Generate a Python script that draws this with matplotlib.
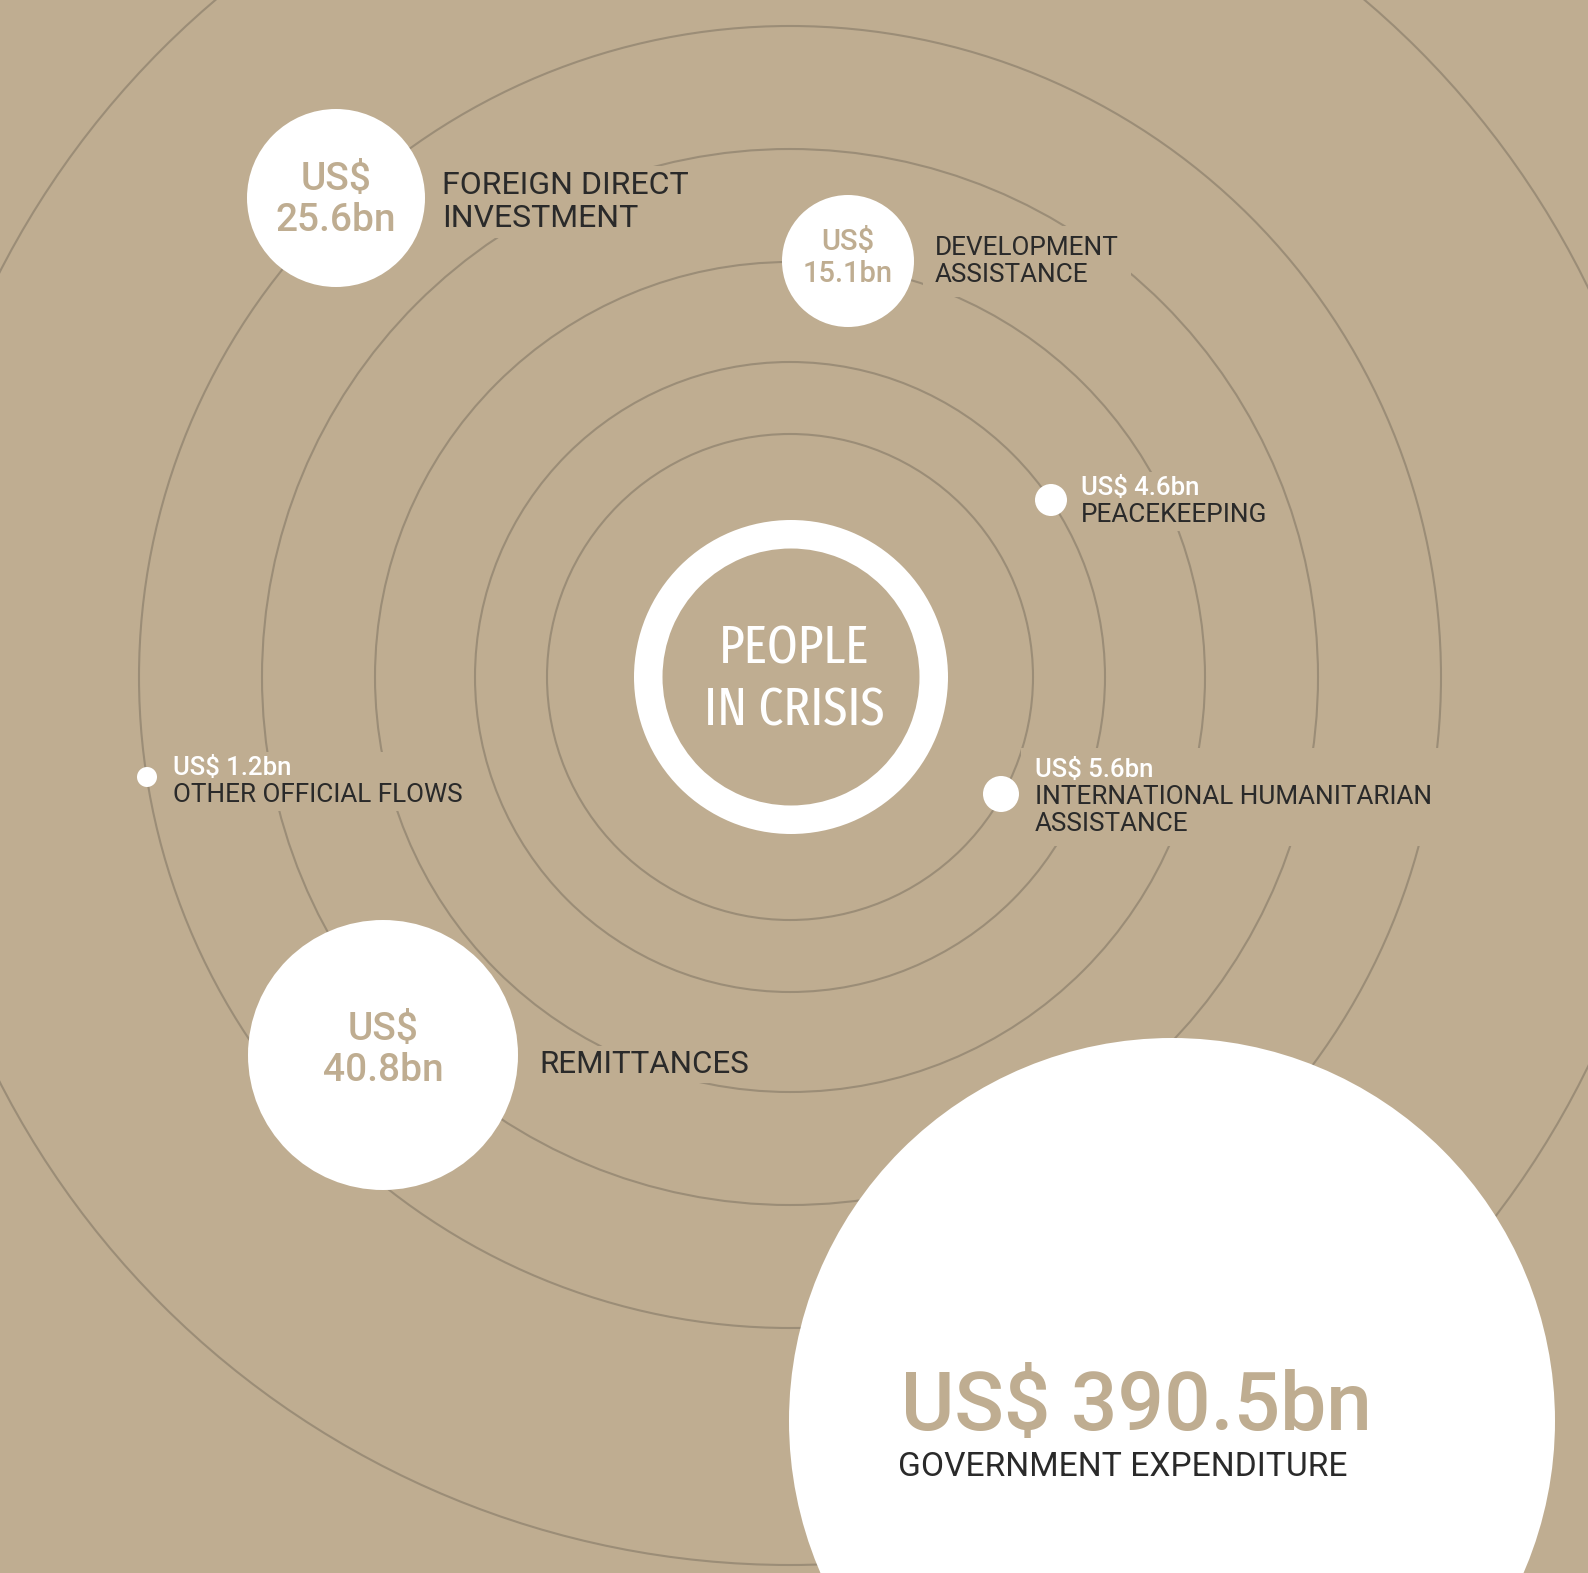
"""Where the money goes: resource flows around people in crisis (bubble ring diagram)."""

import os

import matplotlib
matplotlib.use("Agg")
import matplotlib.pyplot as plt
from matplotlib import font_manager
from matplotlib.font_manager import FontProperties
from matplotlib.patches import Circle, Rectangle, Wedge
from matplotlib.transforms import Bbox

# canvas size in pixels (figure drawn at dpi=100)
W, H = 1588, 1573

BG = "#BFAD91"
RING = "#9B8D77"
DARK = "#2A2A2A"
WHITE = "#FFFFFF"

# data: resource flows, US$ billions
flow_names = [
    "FOREIGN DIRECT\nINVESTMENT",
    "DEVELOPMENT\nASSISTANCE",
    "PEACEKEEPING",
    "OTHER OFFICIAL FLOWS",
    "INTERNATIONAL HUMANITARIAN\nASSISTANCE",
    "REMITTANCES",
    "GOVERNMENT EXPENDITURE",
]
flow_values = [25.6, 15.1, 4.6, 1.2, 5.6, 40.8, 390.5]
centre_title = ["PEOPLE", "IN CRISIS"]

# layout (pixel coords, y down)
bubble_xy = [(336, 198), (848, 261), (1051, 500), (147, 777),
             (1001, 794), (383, 1055), (1172, 1421)]
bubble_r = [89, 66, 16, 10, 18, 135, 383]
bubble_style = ["inside", "inside", "dot", "dot", "dot", "inside", "big"]
label_xy = [(442, 194), (935, 255), (1081, 495), (173, 775),
            (1035, 777), (539, 1073), (901, 1430)]
value_dy = [2, -3, 0, 0, 0, -5, 0]
name_size = [23, 18.8, 18.8, 18.8, 18.8, 22.5, 24.2]
value_size = [28, 21, 18.5, 18.5, 18.5, 28, 59]
line_step = [33, 27, 27, 27, 27, 33, 46]
# gap cut into the rings around each label block: (x pad, y pad) in px
mask_pad = [(8, 5), (12, 10), (8, 4), (8, 4), (14, 10), (10, 4), None]

ring_centre = (790, 677)
ring_radii = [243, 315, 415, 528, 651, 888]


def pick_font(candidates):
    installed = {f.name for f in font_manager.fontManager.ttflist}
    for name in candidates:
        if name in installed:
            return name
    return "DejaVu Sans"


def narrow_font(fallback):
    """Return FontProperties of the best condensed face that is installed."""
    best, best_score = None, -1
    for f in font_manager.fontManager.ttflist:
        base = os.path.basename(f.fname)
        if "Condensed" not in base and "Narrow" not in base:
            continue
        if any(k in base for k in ["Italic", "Oblique", "Light", "Thin",
                                   "Black", "ExtraBold", "Heavy"]):
            continue
        score = 1.0
        if "ExtraCondensed" in base:
            score += 3
        elif "SemiCondensed" in base:
            score += 0
        else:
            score += 2
        if "Medium" in base:
            score += 1.0
        elif "SemiBold" in base:
            score += 0.5
        elif "Bold" in base:
            score -= 0.5
        else:
            score += 1.5
        if score > best_score:
            best, best_score = f.fname, score
    if best is None:
        return FontProperties(family=fallback)
    return FontProperties(fname=best)


def cut_rings(ax, texts, pad):
    """Put a background-coloured block under a label so the rings break there."""
    renderer = ax.figure.canvas.get_renderer()
    box = Bbox.union([t.get_window_extent(renderer) for t in texts])
    box = box.transformed(ax.transData.inverted())
    x0, x1 = sorted([box.x0, box.x1])
    y0, y1 = sorted([box.y0, box.y1])
    px, py = pad
    ax.add_patch(Rectangle((x0 - px, y0 - py), x1 - x0 + 2 * px, y1 - y0 + 2 * py,
                           fc=BG, ec="none", zorder=2))


def main():
    body_font = pick_font(["Roboto", "Lato", "DejaVu Sans"])
    title_prop = narrow_font(body_font)

    fig = plt.figure(figsize=(W / 100, H / 100), dpi=100)
    fig.patch.set_facecolor(BG)
    ax = fig.add_axes([0, 0, 1, 1])
    ax.set_facecolor(BG)
    ax.set_xlim(0, W)
    ax.set_ylim(H, 0)
    ax.set_aspect("equal")
    ax.axis("off")

    # concentric guide rings
    for r in ring_radii:
        ax.add_patch(Circle(ring_centre, r, fill=False, ec=RING, lw=1.5, zorder=1))

    # centre ring and title, title sized so the wider line is ~180 px across
    ax.add_patch(Wedge((791, 677), 157, 0, 360, width=28.5, fc=WHITE, ec="none", zorder=3))
    renderer = fig.canvas.get_renderer()
    title_texts = []
    for k, line in enumerate(centre_title):
        t = ax.text(794, 664 + k * 61, line, ha="center", va="baseline",
                    fontproperties=title_prop, fontsize=44, color=WHITE, zorder=4)
        title_texts.append(t)
    widest = max(t.get_window_extent(renderer).width for t in title_texts)
    new_size = min(50, 44 * 180 / widest)
    for t in title_texts:
        t.set_fontsize(new_size)

    for name, value, (cx, cy), r, style, (lx, ly), ns, vs, step, dy, pad in zip(
            flow_names, flow_values, bubble_xy, bubble_r, bubble_style,
            label_xy, name_size, value_size, line_step, value_dy, mask_pad):
        ax.add_patch(Circle((cx, cy), r, fc=WHITE, ec="none", zorder=3))
        label_texts = []
        if style == "inside":
            ax.text(cx, cy + dy, f"US$\n{value}bn", ha="center", va="center",
                    linespacing=1.15, fontsize=vs, color=BG, family=body_font,
                    fontweight="medium", zorder=4)
            for k, line in enumerate(name.split("\n")):
                label_texts.append(ax.text(
                    lx, ly + k * step, line, ha="left", va="baseline",
                    fontsize=ns, color=DARK, family=body_font, zorder=2.5))
        elif style == "dot":
            label_texts.append(ax.text(
                lx, ly, f"US$ {value}bn", ha="left", va="baseline",
                fontsize=vs, color=WHITE, family=body_font,
                fontweight="medium", zorder=2.5))
            for k, line in enumerate(name.split("\n")):
                label_texts.append(ax.text(
                    lx, ly + (k + 1) * step, line, ha="left", va="baseline",
                    fontsize=ns, color=DARK, family=body_font, zorder=2.5))
        else:
            ax.text(lx, ly, f"US$ {value}bn", ha="left", va="baseline",
                    fontsize=vs, color=BG, family=body_font,
                    fontweight="medium", zorder=4)
            ax.text(lx - 3, ly + step, name, ha="left", va="baseline",
                    fontsize=ns, color=DARK, family=body_font, zorder=4)
        if pad is not None:
            cut_rings(ax, label_texts, pad)

    fig.savefig("out.png", dpi=100, facecolor=BG)


if __name__ == "__main__":
    main()
